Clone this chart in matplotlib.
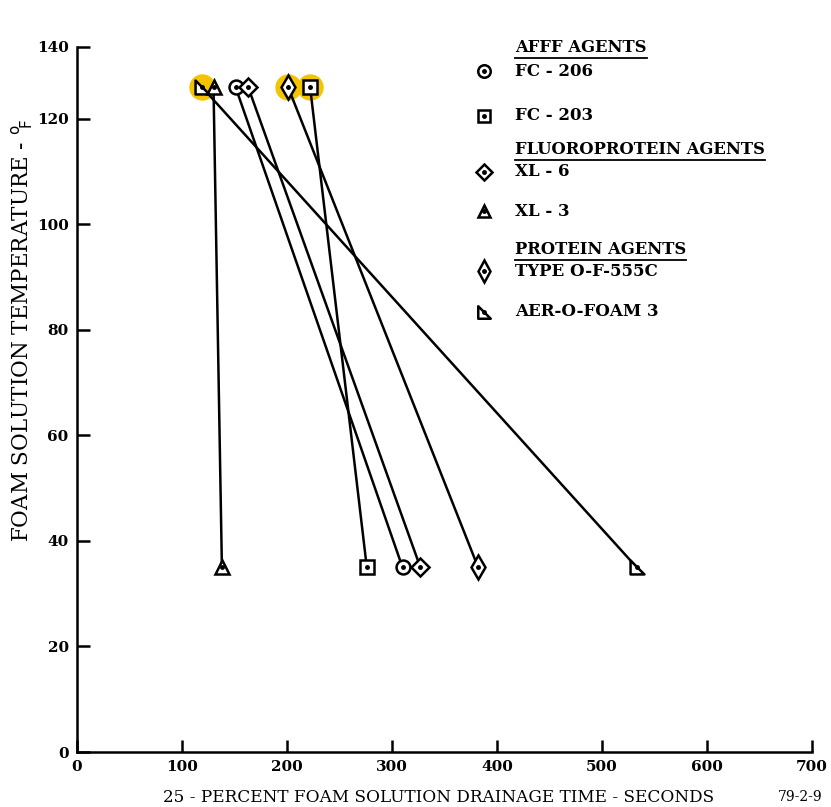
import numpy as np
import matplotlib
matplotlib.use('Agg')
import matplotlib.pyplot as plt
from matplotlib.path import Path

# values
agents = ['FC - 206', 'FC - 203', 'XL - 6', 'XL - 3', 'TYPE O-F-555C', 'AER-O-FOAM 3']
groups = ['AFFF AGENTS', 'FLUOROPROTEIN AGENTS', 'PROTEIN AGENTS']
temps = [126, 35]
time_hot = [151, 222, 163, 130, 201, 119]
time_cold = [310, 276, 327, 138, 382, 533]
highlighted = ['FC - 203', 'TYPE O-F-555C', 'AER-O-FOAM 3']

x_ticks = [0, 100, 200, 300, 400, 500, 600, 700]
y_ticks = [0, 20, 40, 60, 80, 100, 120]

right_tri = Path([(-1, -1), (1, -1), (-1, 1), (-1, -1)],
                 [Path.MOVETO, Path.LINETO, Path.LINETO, Path.CLOSEPOLY])
markers = ['o', 's', 'D', '^', 'd', right_tri]
sizes = [10, 9.5, 9, 9.5, 12, 10]

plt.rcParams['font.family'] = ['DejaVu Serif']

W, H = 831, 807
fig = plt.figure(figsize=(W / 100, H / 100), dpi=100)
ax = fig.add_axes([77 / W, (H - 752) / H, 735 / W, 705 / H])

# yellow highlights from the scan
for name in highlighted:
    i = agents.index(name)
    ax.plot(time_hot[i], temps[0], 'o', ms=19, color='#f5c400', mec='none', zorder=1)

for i, name in enumerate(agents):
    ax.plot([time_hot[i], time_cold[i]], temps, color='black', lw=1.8, zorder=2)
    ax.plot([time_hot[i], time_cold[i]], temps, ls='none', marker=markers[i], ms=sizes[i],
            mfc='white', mec='black', mew=1.8, zorder=3)
    ax.plot([time_hot[i], time_cold[i]], temps, ls='none', marker='o', ms=2.5,
            color='black', zorder=4)

ax.set_xlim(0, 700)
ax.set_ylim(0, 133.6)
ax.set_xticks(x_ticks)
ax.set_xticklabels([str(v) for v in x_ticks], fontsize=11, fontweight='bold')
ax.set_yticks(y_ticks + [133.6])
ax.set_yticklabels([str(v) for v in y_ticks] + ['140'], fontsize=11, fontweight='bold')
ax.tick_params(direction='in', length=9, width=1.8, pad=6)
ax.spines['top'].set_visible(False)
ax.spines['right'].set_visible(False)
ax.spines['left'].set_linewidth(1.8)
ax.spines['bottom'].set_linewidth(1.8)

fig.text(22 / W, 1 - 330 / H, r'FOAM SOLUTION TEMPERATURE - $^{\mathrm{o}}\!_{\mathrm{F}}$',
         rotation=90, ha='center', va='center', fontsize=15.5)
fig.text(439 / W, 1 - 797 / H, '25 - PERCENT FOAM SOLUTION DRAINAGE TIME - SECONDS',
         ha='center', va='center', fontsize=12.2)
fig.text(800 / W, 1 - 797 / H, '79-2-9', ha='center', va='center', fontsize=10)

# legend drawn by hand
header_y = [48, 150, 250]
item_y = [71, 116, 172, 211, 271, 312]
headers = []
for g, py in zip(groups, header_y):
    t = fig.text(515 / W, 1 - py / H, g, ha='left', va='center', fontsize=11.8, fontweight='bold')
    headers.append(t)
for i, name in enumerate(agents):
    py = item_y[i]
    fig.text(515 / W, 1 - py / H, name, ha='left', va='center', fontsize=12, fontweight='bold')
    fig.add_artist(plt.Line2D([484 / W], [1 - py / H], marker=markers[i], ms=sizes[i] - 1,
                              mfc='white', mec='black', mew=1.8, ls='none'))
    fig.add_artist(plt.Line2D([484 / W], [1 - py / H], marker='o', ms=2.5, color='black', ls='none'))

fig.canvas.draw()
r = fig.canvas.get_renderer()
for t in headers:
    bb = t.get_window_extent(r)
    yy = (bb.y0 - 1) / H
    fig.add_artist(plt.Line2D([bb.x0 / W, bb.x1 / W], [yy, yy], color='black', lw=1.3))

fig.savefig('out.png', dpi=100)
